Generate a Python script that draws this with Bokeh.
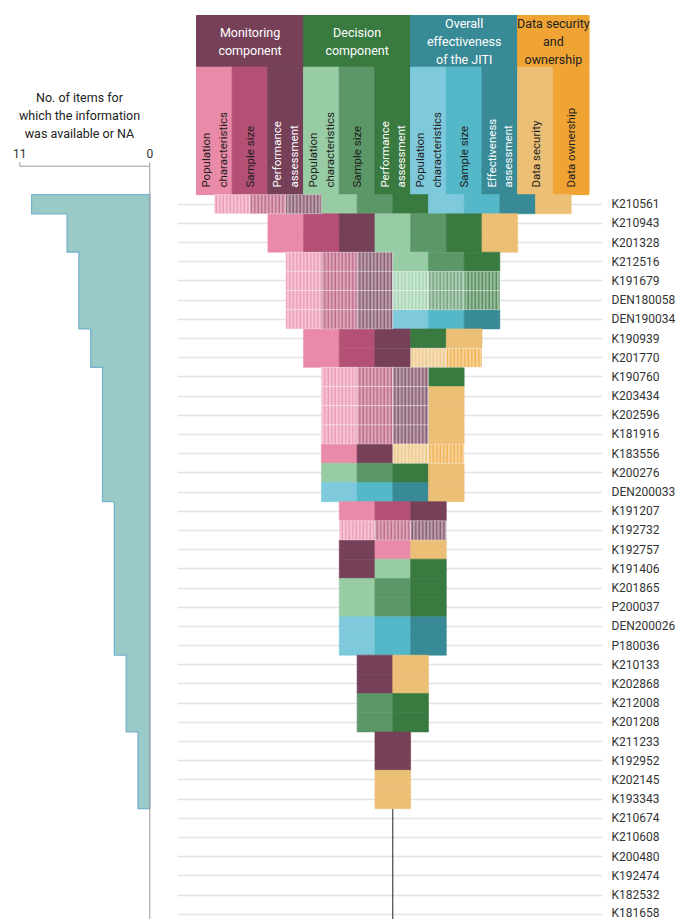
import numpy as np
from bokeh.plotting import figure
from bokeh.models import Range1d, FixedTicker
from bokeh.layouts import row
from bokeh.embed import file_html
from bokeh.resources import INLINE
from bokeh.core.properties import value

# ---------------- data ----------------
devices = ["K210561", "K210943", "K201328", "K212516", "K191679", "DEN180058",
           "DEN190034", "K190939", "K201770", "K190760", "K203434", "K202596",
           "K181916", "K183556", "K200276", "DEN200033", "K191207", "K192732",
           "K192757", "K191406", "K201865", "P200037", "DEN200026", "P180036",
           "K210133", "K202868", "K212008", "K201208", "K211233", "K192952",
           "K202145", "K193343", "K210674", "K210608", "K200480", "K192474",
           "K182532", "K181658"]

# items shown per device, left to right ("*" = NA, drawn hatched)
row_items = [
    "MP* MS* MA* DP DS DA OP OS OE SS",
    "MP MS MA DP DS DA SS",
    "MP MS MA DP DS DA SS",
    "MP* MS* MA* DP DS DA",
    "MP* MS* MA* DP* DS* DA*",
    "MP* MS* MA* DP* DS* DA*",
    "MP* MS* MA* OP OS OE",
    "MP MS MA DA SS",
    "MP MS MA SS* SO*",
    "MP* MS* MA* DA",
    "MP* MS* MA* SS",
    "MP* MS* MA* SS",
    "MP* MS* MA* SS",
    "MP MA SS* SO*",
    "DP DS DA SS",
    "OP OS OE SS",
    "MP MS MA",
    "MP* MS* MA*",
    "MA MP SS",
    "MA DP DA",
    "DP DS DA",
    "DP DS DA",
    "OP OS OE",
    "OP OS OE",
    "MA SS",
    "MA SS",
    "DS DA",
    "DS DA",
    "MA",
    "MA",
    "SS",
    "SS",
    "", "", "", "", "", "",
]

item_codes = ["MP", "MS", "MA", "DP", "DS", "DA", "OP", "OS", "OE", "SS", "SO"]
item_labels = ["Population\ncharacteristics", "Sample size", "Performance\nassessment",
               "Population\ncharacteristics", "Sample size", "Performance\nassessment",
               "Population\ncharacteristics", "Sample size", "Effectiveness\nassessment",
               "Data security", "Data ownership"]
group_labels = ["Monitoring\ncomponent", "Decision\ncomponent",
                "Overall\neffectiveness\nof the JITI", "Data security\nand\nownership"]
group_sizes = [3, 3, 3, 2]
bar_axis_ticks = [0, 11]
bar_tick_labels = ["0", "11"]
bar_title = "No. of items for\nwhich the information\nwas available or NA"

# ---------------- style ----------------
item_colors = {"MP": "#e98aa8", "MS": "#b45076", "MA": "#764058",
               "DP": "#97cca5", "DS": "#5c9768", "DA": "#387a40",
               "OP": "#7ec9dc", "OS": "#54b8c8", "OE": "#388a96",
               "SS": "#ebbf76", "SO": "#efa434"}
item_text_colors = {"MA": "white", "DA": "white", "OE": "white"}
group_colors = ["#764058", "#387a40", "#388a96", "#efa434"]
group_text_colors = ["white", "white", "white", "#222222"]
FONT = "Roboto"


def tint(hexc, f):
    h = hexc.lstrip("#")
    r, g, b = (int(h[i:i + 2], 16) for i in (0, 2, 4))
    mix = lambda c: int(round(c + (255 - c) * f))
    return "#%02x%02x%02x" % (mix(r), mix(g), mix(b))


# layout constants (page pixels)
PITCH = 19.19         # row height
ROW0 = 203.7          # page y of first row centre
H = 919
CELL = 35.85          # cell width
LEFT_W = 168
MAIN_W = 510
MAIN_BL, MAIN_BR = 9, 74
CENTER_X = 393.3      # page x of the centre line
AX_Y = 165.7          # page y of bar-chart axis line
AX11, AX0 = 19.3, 149.3
GROUP_TOP, GROUP_BOT = 15, 66.7

y_bottom = (H - ROW0) / PITCH
to_row = lambda py: (py - ROW0) / PITCH

# ---------------- main figure ----------------
fl = LEFT_W + MAIN_BL
fr = LEFT_W + MAIN_W - MAIN_BR
main = figure(width=MAIN_W, height=H,
              x_range=Range1d((fl - CENTER_X) / CELL, (fr - CENTER_X) / CELL),
              y_range=Range1d(y_bottom, to_row(0)),
              output_backend="svg", toolbar_location=None,
              x_axis_location=None, y_axis_location="right",
              min_border_left=MAIN_BL, min_border_right=MAIN_BR,
              min_border_top=0, min_border_bottom=0)
main.outline_line_color = None
main.xgrid.visible = False
tick = FixedTicker(ticks=list(range(len(devices))))
ya = main.yaxis[0]
ya.ticker = tick
ya.major_label_overrides = {i: d for i, d in enumerate(devices)}
ya.axis_line_color = None
ya.major_tick_line_color = None
ya.minor_tick_line_color = None
ya.major_tick_out = 0
ya.major_tick_in = 0
ya.minor_tick_out = 0
ya.minor_tick_in = 0
ya.major_label_standoff = 9
ya.major_label_text_font = FONT
ya.major_label_text_font_size = "12px"
ya.major_label_text_color = "#333333"
main.ygrid.ticker = tick
main.ygrid.grid_line_color = "#e3e3e3"
main.ygrid.grid_line_width = 1.5

# header: group bands and item columns
ncols = len(item_codes)
col_x = [j - (ncols - 1) / 2 for j in range(ncols)]
g_top, g_bot = to_row(GROUP_TOP), to_row(GROUP_BOT)
start = 0
gx, gl, gr = [], [], []
for s in group_sizes:
    gl.append(col_x[start] - 0.5)
    gr.append(col_x[start + s - 1] + 0.5)
    gx.append((col_x[start] + col_x[start + s - 1]) / 2)
    start += s
main.quad(left=gl, right=gr, top=g_top, bottom=g_bot, fill_color=group_colors,
          line_color=group_colors)
main.text(x=gx, y=(g_top + g_bot) / 2, text=group_labels, text_align="center",
          text_baseline="middle", text_color=group_text_colors,
          text_font=value(FONT), text_font_size="12.5px", text_line_height=1.18)
main.quad(left=[x - 0.5 for x in col_x], right=[x + 0.5 for x in col_x],
          top=g_bot, bottom=-0.5, fill_color=[item_colors[c] for c in item_codes],
          line_color=[item_colors[c] for c in item_codes])
main.text(x=col_x, y=-0.5 - 7 / PITCH, text=item_labels, angle=np.pi / 2,
          text_align="left", text_baseline="middle",
          text_color=[item_text_colors.get(c, "#1e1e1e") for c in item_codes],
          text_font=value(FONT), text_font_size="11.5px", text_line_height=1.18)

# centre line below the last row that has items
counts = [len(s.split()) for s in row_items]
last = max(i for i, c in enumerate(counts) if c > 0)
main.segment(x0=0, y0=last + 0.5, x1=0, y1=y_bottom, line_color="#222222",
             line_width=1)

# cells
sx, sy, sc = [], [], []
hx, hy, hc, hf = [], [], [], []
for i, s in enumerate(row_items):
    its = s.split()
    n = len(its)
    for k, it in enumerate(its):
        x = k - (n - 1) / 2
        code = it.rstrip("*")
        if it.endswith("*"):
            hx.append(x); hy.append(i)
            hc.append(item_colors[code]); hf.append(tint(item_colors[code], 0.5))
        else:
            sx.append(x); sy.append(i); sc.append(item_colors[code])
main.rect(x=sx, y=sy, width=1, height=1, fill_color=sc, line_color=sc,
          line_width=0.6)
main.rect(x=hx, y=hy, width=1, height=1, fill_color=hf, line_color="white",
          line_alpha=0.3, line_width=1, hatch_pattern="vertical_line",
          hatch_color=hc, hatch_alpha=0.85, hatch_scale=3.5, hatch_weight=1.2)

# ---------------- left bar figure ----------------
S = (AX0 - AX11) / (bar_axis_ticks[1] - bar_axis_ticks[0])
bmin, bmax = min(bar_axis_ticks), max(bar_axis_ticks)
left = figure(width=LEFT_W, height=H,
              x_range=Range1d(bmax + AX11 / S, -(LEFT_W - AX0) / S),
              y_range=Range1d(y_bottom, to_row(0)),
              output_backend="svg", toolbar_location=None,
              x_axis_location=None, y_axis_location=None,
              min_border_left=0, min_border_right=0,
              min_border_top=0, min_border_bottom=0)
left.grid.visible = False
left.outline_line_color = None

# stepped area: one bar per device with its item count, drawn as one outline
rows_idx = [i for i, c in enumerate(counts) if c > 0]
ox, oy = [0], [rows_idx[0] - 0.5]
for i in rows_idx:
    ox += [counts[i], counts[i]]
    oy += [i - 0.5, i + 0.5]
ox += [0]
oy += [last + 0.5]
left.patch(x=ox, y=oy, fill_color="#99cac8", line_color="#78b1cd",
           line_width=1.3)

# hand-drawn top axis of the bar chart
ay = to_row(AX_Y)
tk_top = to_row(AX_Y - 4)
left.segment(x0=bmin, y0=ay, x1=bmax, y1=ay, line_color="#999999", line_width=1)
left.segment(x0=bar_axis_ticks, y0=tk_top, x1=bar_axis_ticks,
             y1=[y_bottom if t == bmin else ay for t in bar_axis_ticks],
             line_color="#999999", line_width=1)
left.text(x=bar_axis_ticks, y=to_row(AX_Y - 12.5), text=bar_tick_labels,
          text_align="center", text_baseline="middle", text_color="#333333",
          text_font=value(FONT), text_font_size="12px")
left.text(x=[(bmin + bmax) / 2 + 0.45], y=[to_row(115)], text=[bar_title],
          text_align="center", text_baseline="middle", text_color="#222222",
          text_font=value(FONT), text_font_size="12.5px", text_line_height=1.18)

layout = row(left, main)
open("out.html", "w").write(file_html(layout, INLINE))
